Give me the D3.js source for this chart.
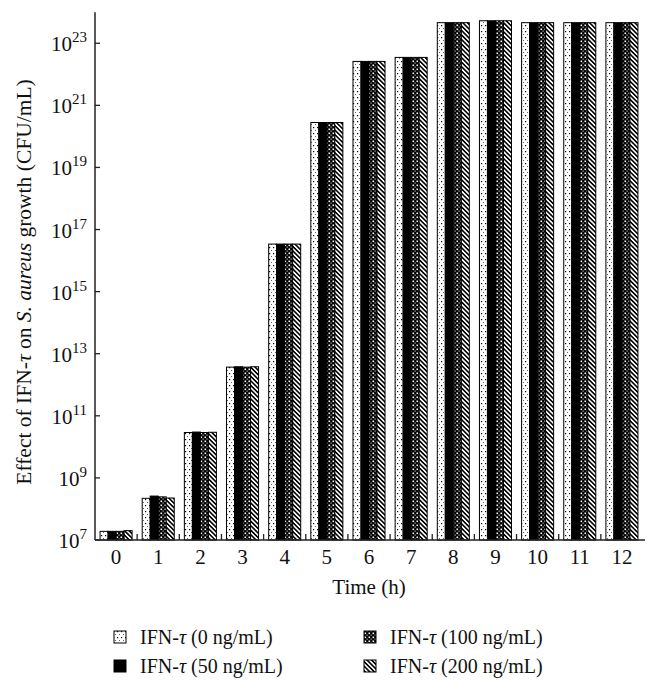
<!DOCTYPE html>
<html>
<head>
<meta charset="utf-8">
<script src="https://cdn.jsdelivr.net/npm/d3@7"></script>
<style>
html,body{margin:0;padding:0;background:#fff;}
svg text{font-family:"Liberation Serif","Times New Roman",serif;fill:#111;}
</style>
</head>
<body>
<script>
const hours = ["0","1","2","3","4","5","6","7","8","9","10","11","12"];
const seriesNames = ["0 ng/mL","50 ng/mL","100 ng/mL","200 ng/mL"];
const cfu0   = [1.9e7, 2.2e8, 2.9e10, 3.7e12, 3.4e16, 2.8e20, 2.6e22, 3.5e22, 4.6e23, 5.3e23, 4.6e23, 4.6e23, 4.6e23];
const cfu50  = [1.9e7, 2.6e8, 3.0e10, 3.8e12, 3.4e16, 2.8e20, 2.6e22, 3.5e22, 4.6e23, 5.3e23, 4.6e23, 4.6e23, 4.6e23];
const cfu100 = [1.9e7, 2.45e8, 2.9e10, 3.7e12, 3.4e16, 2.8e20, 2.6e22, 3.5e22, 4.6e23, 5.3e23, 4.6e23, 4.6e23, 4.6e23];
const cfu200 = [2.0e7, 2.25e8, 2.95e10, 3.8e12, 3.4e16, 2.8e20, 2.6e22, 3.5e22, 4.6e23, 5.3e23, 4.6e23, 4.6e23, 4.6e23];
const yTickExps = [7, 9, 11, 13, 15, 17, 19, 21, 23];

const seriesValues = [cfu0, cfu50, cfu100, cfu200];
const fills = ["url(#pDots)", "#000", "url(#pChk)", "url(#pStripe)"];

const W = 657, H = 692;
const svg = d3.select("body").append("svg").attr("width", W).attr("height", H);

// patterns
const defs = svg.append("defs");
const pd = defs.append("pattern").attr("id","pDots").attr("patternUnits","userSpaceOnUse")
  .attr("width",4).attr("height",6);
pd.append("rect").attr("width",4).attr("height",6).attr("fill","#fff");
pd.append("rect").attr("x",1).attr("y",1).attr("width",1.2).attr("height",1.2).attr("fill","#000");
pd.append("rect").attr("x",3).attr("y",4).attr("width",1).attr("height",1).attr("fill","#666");

const pc = defs.append("pattern").attr("id","pChk").attr("patternUnits","userSpaceOnUse")
  .attr("width",4).attr("height",4);
pc.append("rect").attr("width",4).attr("height",4).attr("fill","#000");
pc.append("rect").attr("x",0.5).attr("y",0.5).attr("width",1.6).attr("height",1.6).attr("fill","#fff");
pc.append("rect").attr("x",2.5).attr("y",2.5).attr("width",1.2).attr("height",1.2).attr("fill","#bbb");

const ps = defs.append("pattern").attr("id","pStripe").attr("patternUnits","userSpaceOnUse")
  .attr("width",3.2).attr("height",3.2).attr("patternTransform","rotate(-45)");
ps.append("rect").attr("width",3.2).attr("height",3.2).attr("fill","#fff");
ps.append("rect").attr("width",1.6).attr("height",3.2).attr("fill","#000");

const x0 = 95, x1 = 643, yBot = 540, yTop = 12.2;
const x = d3.scaleBand().domain(hours).range([x0, x1]).paddingInner(0.24).paddingOuter(0.12);
const xs = d3.scaleBand().domain(d3.range(4)).range([0, x.bandwidth()]);
const y = d3.scaleLog().domain([1e7, 1e24]).range([yBot, yTop]);

// bars
const g = svg.append("g");
hours.forEach((h, i) => {
  seriesValues.forEach((vals, s) => {
    g.append("rect")
      .attr("x", x(h) + xs(s))
      .attr("y", y(vals[i]))
      .attr("width", xs.bandwidth())
      .attr("height", yBot - y(vals[i]))
      .attr("fill", fills[s])
      .attr("stroke", "#000").attr("stroke-width", 1);
  });
});

// y axis
const ya = svg.append("g").attr("transform", `translate(${x0},0)`);
ya.append("line").attr("x1",0).attr("x2",0).attr("y1",yBot).attr("y2",yTop).attr("stroke","#222").attr("stroke-width",1.5);
yTickExps.forEach(e => {
  const yy = y(Math.pow(10, e));
  ya.append("line").attr("x1",0).attr("x2",5).attr("y1",yy).attr("y2",yy).attr("stroke","#222").attr("stroke-width",1.3);
  const t = ya.append("text").attr("x",-8).attr("y",yy+8).attr("text-anchor","end").attr("font-size",21);
  t.append("tspan").text("10");
  t.append("tspan").attr("dy",-9).attr("font-size",15).text(String(e));
});

// x axis
const xa = svg.append("g");
xa.append("line").attr("x1",x0).attr("x2",x1+2).attr("y1",yBot).attr("y2",yBot).attr("stroke","#222").attr("stroke-width",1.5);
hours.forEach((h, i) => {
  if (i > 0) {
    const bx = x(h) - x.step()*x.paddingInner()/2;
    xa.append("line").attr("x1",bx).attr("x2",bx).attr("y1",yBot).attr("y2",yBot-6).attr("stroke","#222").attr("stroke-width",1.3);
  }
  xa.append("text").attr("x", x(h)+x.bandwidth()/2).attr("y", 564).attr("text-anchor","middle").attr("font-size",21).text(h);
});

svg.append("text").attr("x", (x0+x1)/2).attr("y", 594).attr("text-anchor","middle").attr("font-size",21).text("Time (h)");

// y title
const yt = svg.append("text").attr("transform", "translate(31,282) rotate(-90)").attr("text-anchor","middle").attr("font-size",21.5);
yt.append("tspan").text("Effect of IFN-");
yt.append("tspan").attr("font-style","italic").text("τ");
yt.append("tspan").text(" on ");
yt.append("tspan").attr("font-style","italic").text("S. aureus");
yt.append("tspan").text(" growth (CFU/mL)");

// legend
const legPos = [[114, 637], [114, 666], [364, 637], [364, 666]];
seriesNames.forEach((n, s) => {
  const [lx, ly] = legPos[s];
  svg.append("rect").attr("x", lx).attr("y", ly-6).attr("width", 12).attr("height", 12)
    .attr("fill", fills[s]).attr("stroke","#000").attr("stroke-width",1);
  const t = svg.append("text").attr("x", lx+26).attr("y", ly+7).attr("font-size",20);
  t.append("tspan").text("IFN-");
  t.append("tspan").attr("font-style","italic").text("τ");
  t.append("tspan").text(" (" + n + ")");
});
</script>
</body>
</html>
